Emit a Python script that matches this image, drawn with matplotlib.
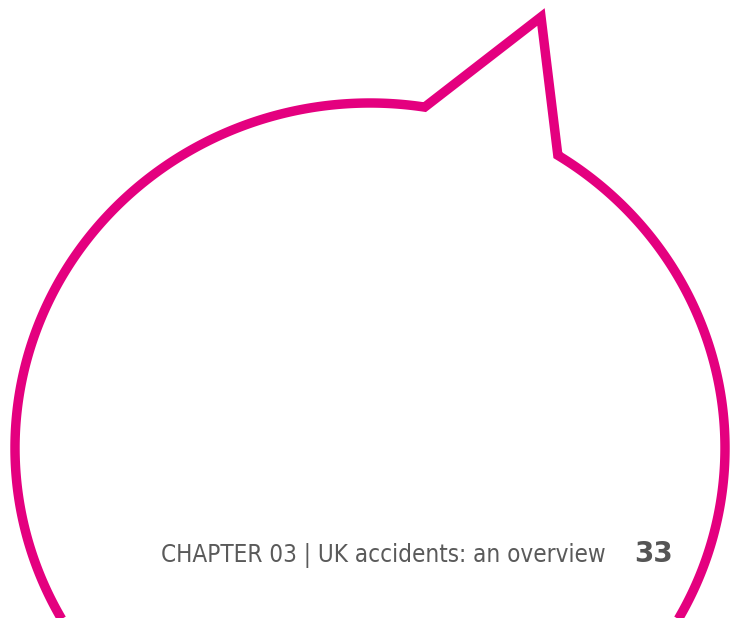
import numpy as np
import matplotlib
matplotlib.use("Agg")
import matplotlib.pyplot as plt
from matplotlib.patches import Polygon

# Speech-bubble outline (pixel coordinates, y downward)
bubble_center = (370, 448)
bubble_radii = (355, 345)
tail_points = [(425, 105), (541, 17), (558, 155)]
footer_text = "CHAPTER 03 | UK accidents: an overview"
page_number = "33"

W, H = 733, 618
fig = plt.figure(figsize=(W / 100, H / 100), dpi=100)
ax = fig.add_axes([0, 0, 1, 1])
ax.set_xlim(0, W)
ax.set_ylim(H, 0)
ax.axis("off")

cx, cy = bubble_center
rx, ry = bubble_radii
p_end = tail_points[0]
p_start = tail_points[2]
t0 = np.arctan2((p_start[1] - cy) / ry, (p_start[0] - cx) / rx)
t1 = np.arctan2((p_end[1] - cy) / ry, (p_end[0] - cx) / rx) + 2 * np.pi
t = np.linspace(t0, t1, 800)
arc = list(zip(cx + rx * np.cos(t), cy + ry * np.sin(t)))
pts = [tail_points[1]] + arc
k = 400  # start the closed outline mid-arc so corners are clean joins
pts = pts[k:] + pts[:k]
poly = Polygon(pts, closed=True, fill=False, edgecolor="#E4007F", lw=6.8,
               joinstyle="miter")
ax.add_patch(poly)

ax.text(606, 562, footer_text, ha="right", va="baseline", color="#5a5a5a",
        fontsize=17.4, family=["DejaVu Sans"], fontstretch="condensed")
ax.text(634, 562, page_number, ha="left", va="baseline", color="#555555",
        fontsize=20, fontweight="bold", family=["DejaVu Sans"])

fig.savefig("out.png", dpi=100)
